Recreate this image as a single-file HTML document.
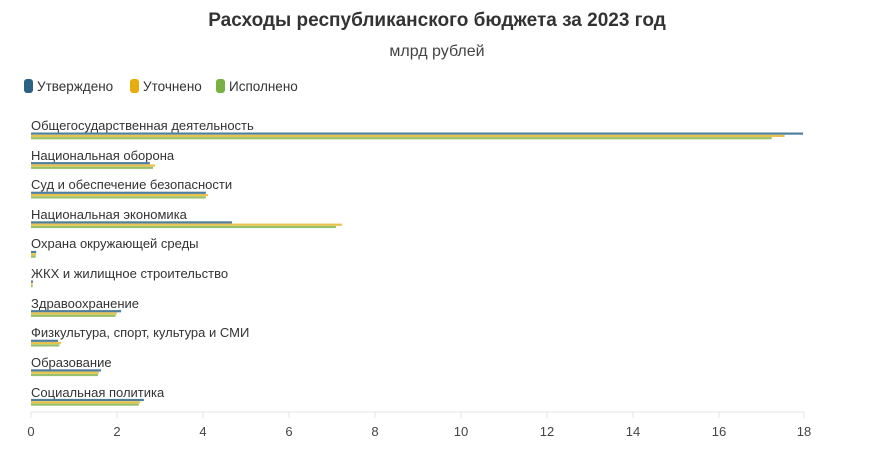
<!DOCTYPE html>
<html><head><meta charset="utf-8"><style>
body{margin:0;background:#fff;font-family:"Liberation Sans","DejaVu Sans",sans-serif;}
</style></head><body>
<svg width="874" height="450" xmlns="http://www.w3.org/2000/svg" font-family="Liberation Sans, DejaVu Sans, sans-serif">
<text x="437" y="26" text-anchor="middle" font-size="19" font-weight="bold" fill="#333">Расходы республиканского бюджета за 2023 год</text>
<text x="437" y="56" text-anchor="middle" font-size="16" fill="#444">млрд рублей</text>
<rect x="24" y="79" width="9" height="14" rx="3" fill="#2a6185"/>
<text x="37" y="91" font-size="13.5" fill="#333">Утверждено</text>
<rect x="130" y="79" width="9" height="14" rx="3" fill="#e6ad10"/>
<text x="143" y="91" font-size="13.5" fill="#333">Уточнено</text>
<rect x="216" y="79" width="9" height="14" rx="3" fill="#77b043"/>
<text x="229" y="91" font-size="13.5" fill="#333">Исполнено</text>
<g font-size="13" fill="#333">
<text x="31" y="130">Общегосударственная деятельность</text>
<text x="31" y="160">Национальная оборона</text>
<text x="31" y="189">Суд и обеспечение безопасности</text>
<text x="31" y="219">Национальная экономика</text>
<text x="31" y="248">Охрана окружающей среды</text>
<text x="31" y="278">ЖКХ и жилищное строительство</text>
<text x="31" y="308">Здравоохранение</text>
<text x="31" y="337">Физкультура, спорт, культура и СМИ</text>
<text x="31" y="367">Образование</text>
<text x="31" y="397">Социальная политика</text>
</g>
<g>
<rect x="31" y="132.5" width="772.1" height="2.2" fill="#4f7f9d"/><rect x="31" y="134.8" width="753.6" height="2.2" fill="#e8c24a"/><rect x="31" y="137.1" width="740.7" height="2.2" fill="#96c06a"/>
<rect x="31" y="162.1" width="118.9" height="2.2" fill="#4f7f9d"/><rect x="31" y="164.4" width="124.1" height="2.2" fill="#e8c24a"/><rect x="31" y="166.7" width="122.0" height="2.2" fill="#96c06a"/>
<rect x="31" y="191.7" width="174.8" height="2.2" fill="#4f7f9d"/><rect x="31" y="194.0" width="176.9" height="2.2" fill="#e8c24a"/><rect x="31" y="196.3" width="174.8" height="2.2" fill="#96c06a"/>
<rect x="31" y="221.3" width="201.0" height="2.2" fill="#4f7f9d"/><rect x="31" y="223.6" width="310.9" height="2.2" fill="#e8c24a"/><rect x="31" y="225.9" width="304.9" height="2.2" fill="#96c06a"/>
<rect x="31" y="250.9" width="5.2" height="2.2" fill="#4f7f9d"/><rect x="31" y="253.2" width="5.2" height="2.2" fill="#e8c24a"/><rect x="31" y="255.5" width="4.7" height="2.2" fill="#96c06a"/>
<rect x="31" y="280.5" width="2.1" height="2.2" fill="#4f7f9d"/><rect x="31" y="282.8" width="1.7" height="2.2" fill="#e8c24a"/><rect x="31" y="285.1" width="1.7" height="2.2" fill="#96c06a"/>
<rect x="31" y="310.1" width="90.2" height="2.2" fill="#4f7f9d"/><rect x="31" y="312.4" width="85.9" height="2.2" fill="#e8c24a"/><rect x="31" y="314.7" width="84.6" height="2.2" fill="#96c06a"/>
<rect x="31" y="339.7" width="27.1" height="2.2" fill="#4f7f9d"/><rect x="31" y="342.0" width="30.1" height="2.2" fill="#e8c24a"/><rect x="31" y="344.3" width="28.3" height="2.2" fill="#96c06a"/>
<rect x="31" y="369.3" width="70.0" height="2.2" fill="#4f7f9d"/><rect x="31" y="371.6" width="67.8" height="2.2" fill="#e8c24a"/><rect x="31" y="373.9" width="67.0" height="2.2" fill="#96c06a"/>
<rect x="31" y="398.9" width="112.9" height="2.2" fill="#4f7f9d"/><rect x="31" y="401.2" width="109.1" height="2.2" fill="#e8c24a"/><rect x="31" y="403.5" width="107.8" height="2.2" fill="#96c06a"/>
</g>
<line x1="31" y1="412" x2="804" y2="412" stroke="#e6e6e6"/>
<g font-size="13" fill="#444" text-anchor="middle">
<text x="31" y="436">0</text><text x="117" y="436">2</text><text x="203" y="436">4</text><text x="289" y="436">6</text><text x="375" y="436">8</text><text x="461" y="436">10</text><text x="547" y="436">12</text><text x="633" y="436">14</text><text x="719" y="436">16</text><text x="804" y="436">18</text>
</g>
<g stroke="#e6e6e6"><line x1="31" y1="412" x2="31" y2="418"/><line x1="117" y1="412" x2="117" y2="418"/><line x1="203" y1="412" x2="203" y2="418"/><line x1="289" y1="412" x2="289" y2="418"/><line x1="375" y1="412" x2="375" y2="418"/><line x1="461" y1="412" x2="461" y2="418"/><line x1="547" y1="412" x2="547" y2="418"/><line x1="633" y1="412" x2="633" y2="418"/><line x1="719" y1="412" x2="719" y2="418"/><line x1="804" y1="412" x2="804" y2="418"/></g>
</svg>
</body></html>
